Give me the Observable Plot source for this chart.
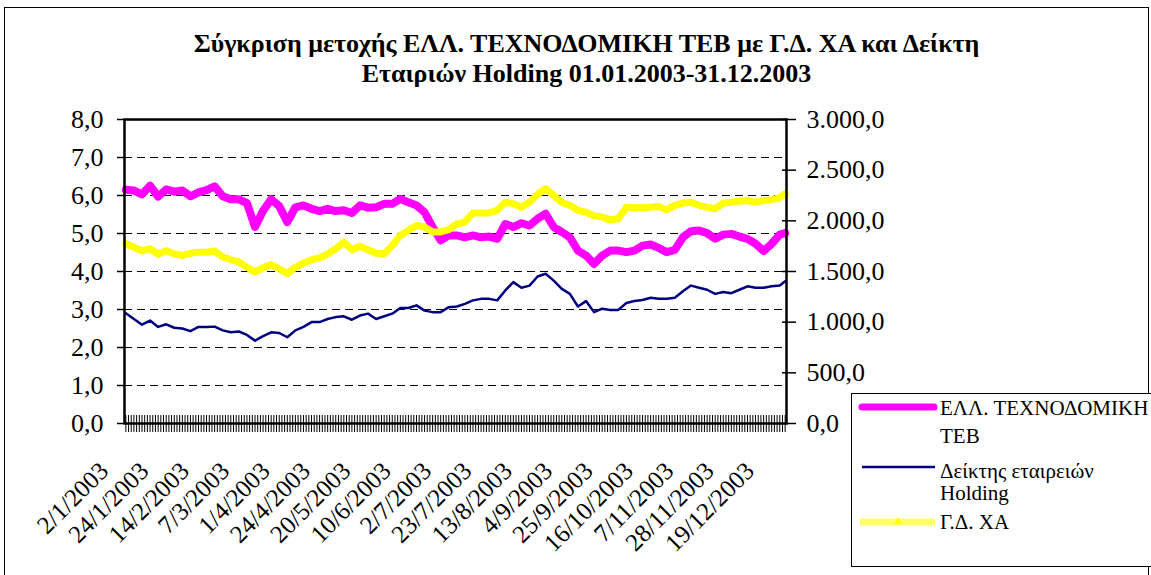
<!DOCTYPE html>
<html><head><meta charset="utf-8">
<script src="https://cdn.jsdelivr.net/npm/d3@7"></script>
<script src="https://cdn.jsdelivr.net/npm/@observablehq/plot@0.6"></script>
<style>
body{margin:0;background:#fff;}
#page{position:relative;width:1151px;height:575px;overflow:hidden;color:#000;background:#fff;font-family:"Liberation Serif",serif;}
#border{position:absolute;left:4px;top:7px;width:1145px;height:600px;border:1px solid #000;box-sizing:border-box;}
#title{position:absolute;left:0;width:1173px;top:29px;text-align:center;font-weight:bold;font-size:26px;line-height:30px;white-space:nowrap;}
#chart{position:absolute;left:0;top:100px;}
#legend{position:absolute;left:851px;top:393px;width:340px;height:174px;border:1px solid #000;box-sizing:border-box;background:#fff;}
.lt{position:absolute;left:940px;font-size:21px;line-height:24px;white-space:nowrap;}
.ls{position:absolute;left:855px;}
</style></head>
<body>
<div id="page">
  <div id="border"></div>
  <div id="title"><div>Σύγκριση μετοχής ΕΛΛ. ΤΕΧΝΟΔΟΜΙΚΗ ΤΕΒ με Γ.Δ. ΧΑ και Δείκτη</div><div>Εταιριών Holding 01.01.2003-31.12.2003</div></div>
  <div id="chart"></div>
  <div id="legend"></div>
  <svg class="ls" style="top:398px" width="90" height="20"><line x1="7" y1="9" x2="79" y2="9" stroke="#ff00ff" stroke-width="7" stroke-linecap="round"/></svg>
  <div class="lt" style="top:396px">ΕΛΛ. ΤΕΧΝΟΔΟΜΙΚΗ</div>
  <div class="lt" style="top:424px">ΤΕΒ</div>
  <svg class="ls" style="top:457px" width="90" height="20"><line x1="7" y1="10" x2="80" y2="10" stroke="#000080" stroke-width="2.5"/></svg>
  <div class="lt" style="top:459px">Δείκτης εταιρειών</div>
  <div class="lt" style="top:481px">Holding</div>
  <svg class="ls" style="top:512px" width="90" height="20"><line x1="5" y1="10" x2="80" y2="10" stroke="#ffff66" stroke-width="7"/><path d="M43,5 L47,12 L39,12 Z" fill="#ffff00"/></svg>
  <div class="lt" style="top:510px">Γ.Δ. ΧΑ</div>
</div>
<script>
// ---- data ----
const tradingDays = 246;               // trading sessions 2/1/2003 .. 31/12/2003
const labelEvery = 15;                 // category label interval
const tickLabels = ["2/1/2003","24/1/2003","14/2/2003","7/3/2003","1/4/2003","24/4/2003","20/5/2003","10/6/2003","2/7/2003","23/7/2003","13/8/2003","4/9/2003","25/9/2003","16/10/2003","7/11/2003","28/11/2003","19/12/2003"];
const sampleDays = d3.range(0, 244, 3).concat([245]);  // trading-day index of each reading
// ΕΛΛ. ΤΕΧΝΟΔΟΜΙΚΗ ΤΕΒ (left axis, €)
const tebPrice = [6.15,6.13,6.03,6.26,5.97,6.16,6.10,6.13,5.98,6.08,6.14,6.24,5.98,5.90,5.90,5.80,5.17,5.60,5.90,5.72,5.30,
  5.69,5.74,5.65,5.59,5.65,5.59,5.61,5.54,5.74,5.68,5.69,5.78,5.78,5.91,5.82,5.74,5.56,5.17,4.82,4.95,
  4.95,4.90,4.95,4.90,4.92,4.86,5.25,5.17,5.27,5.21,5.39,5.52,5.17,5.04,4.90,4.55,4.42,4.20,4.42,4.55,
  4.55,4.51,4.55,4.68,4.71,4.62,4.51,4.57,4.90,5.06,5.08,5.01,4.86,4.97,4.99,4.92,4.86,4.73,4.54,4.73,4.97,5.01];
// Δείκτης εταιρειών Holding (right axis)
const holdingIndex = [1088,1031,975,1016,953,979,945,938,911,953,953,956,919,900,908,874,818,863,900,893,851,
  919,953,1001,1001,1031,1050,1058,1024,1065,1084,1031,1058,1084,1140,1140,1166,1114,1099,1099,1148,
  1155,1181,1215,1230,1230,1215,1313,1395,1339,1361,1451,1478,1410,1328,1279,1155,1208,1099,1133,1121,
  1121,1189,1208,1219,1241,1230,1230,1241,1305,1361,1339,1320,1279,1298,1286,1320,1354,1339,1339,1354,1361,1403];
// Γ.Δ. ΧΑ (right axis)
const generalIndex = [1774,1740,1703,1725,1669,1706,1673,1658,1680,1691,1691,1703,1643,1616,1594,1541,1493,1538,1568,1526,1478,
  1541,1583,1616,1635,1673,1725,1789,1714,1748,1714,1680,1673,1755,1856,1905,1954,1939,1890,1890,1913,
  1969,1988,2078,2078,2078,2104,2183,2168,2134,2183,2261,2318,2250,2183,2153,2104,2085,2051,2036,2010,
  2021,2134,2130,2130,2134,2141,2108,2153,2175,2183,2153,2134,2119,2175,2183,2194,2201,2183,2201,2209,2228,2265];
const leftTicks = [0,1,2,3,4,5,6,7,8];
const rightTicks = [0,500,1000,1500,2000,2500,3000];
const leftMax = 8, rightMax = 3000;

// ---- chart ----
const ratio = rightMax / leftMax;
const gr = d3.formatLocale({decimal: ",", thousands: ".", grouping: [3], currency: ["", "€"]});
const fmtLeft = gr.format(".1f");
const fmtRight = gr.format(",.1f");
const rows = (vals, k) => vals.map((v, i) => ({day: sampleDays[i], v: k ? v / ratio : v}));
const teb = rows(tebPrice, false), hold = rows(holdingIndex, true), gen = rows(generalIndex, true);
const labelDays = tickLabels.map((_, i) => i * labelEvery);
const serif = '"Liberation Serif"';

const chart = Plot.plot({
  width: 1151, height: 475,
  marginLeft: 124, marginRight: 365, marginTop: 19, marginBottom: 152,
  x: {domain: [-0.5, tradingDays - 0.5], label: null},
  y: {domain: [0, leftMax], label: null},
  style: {fontFamily: serif, fontSize: "25px", color: "#000", background: "transparent", overflow: "visible"},
  marks: [
    Plot.ruleY(leftTicks.slice(1, -1), {stroke: "#000", strokeWidth: 1, strokeDasharray: "8,5"}),
    Plot.line(teb, {x: "day", y: "v", stroke: "#ff00ff", strokeWidth: 8, strokeLinejoin: "round"}),
    Plot.line(hold, {x: "day", y: "v", stroke: "#000080", strokeWidth: 2.5, strokeLinejoin: "round"}),
    Plot.line(gen, {x: "day", y: "v", stroke: "#ffff00", strokeWidth: 7, strokeLinejoin: "round"}),
    Plot.axisX(d3.range(tradingDays), {tickSize: 17, insetBottom: 8, tickFormat: () => "", label: null, stroke: "#000", strokeWidth: 1}),
    Plot.frame({stroke: "#000", strokeWidth: 2.5}),
    Plot.axisY(leftTicks, {anchor: "left", tickSize: 7, tickPadding: 14, tickFormat: fmtLeft, label: null, fontSize: 26, strokeWidth: 1.5}),
    Plot.axisY(rightTicks.map(v => v / ratio), {anchor: "right", tickSize: 14, insetRight: 5, tickPadding: 11, tickFormat: v => fmtRight(Math.round(v * ratio)), label: null, fontSize: 26, strokeWidth: 1.5}),
    Plot.text(labelDays, {x: d => d, frameAnchor: "bottom", text: (d, i) => tickLabels[i], rotate: -45, textAnchor: "end", dx: -16, dy: 49, fontSize: 25})
  ]
});
document.getElementById("chart").appendChild(chart);
</script>
</body></html>
